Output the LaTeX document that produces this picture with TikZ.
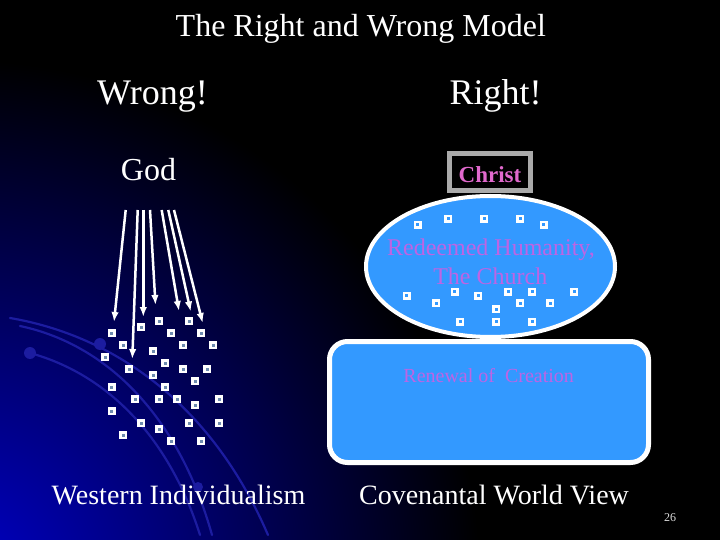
\documentclass[tikz,border=0pt]{standalone}
\usepackage{fontspec}
\setmainfont{Liberation Serif}
\usetikzlibrary{arrows.meta,shapes.geometric}
\definecolor{skyb}{RGB}{51,153,255}
\definecolor{pinkt}{RGB}{225,105,205}
\definecolor{lavt}{RGB}{190,100,228}
\definecolor{sqin}{RGB}{110,140,175}
\definecolor{glow}{RGB}{0,0,200}
\definecolor{arcb}{RGB}{28,28,160}
\definecolor{boxgray}{RGB}{170,170,170}
\tikzset{
  sqbase/.style={rectangle, draw=white, line width=2.5pt, minimum size=5.5pt, inner sep=0pt},
  sqleft/.style={sqbase, fill=sqin},
  sqchurch/.style={sqbase, fill=skyb},
  godarrow/.style={draw=white, line width=2.5pt, -{Latex[length=10pt,width=7.5pt]}},
  txt/.style={text=white, anchor=base, inner sep=0pt},
  arcline/.style={draw=arcb, line width=2.2pt, line cap=round},
}
\begin{document}
\begin{tikzpicture}[x=1pt,y=-1pt]
\fill[black] (0,0) rectangle (720,540);
\begin{scope}
  \clip (0,0) rectangle (720,540);
  \shade[inner color=glow, outer color=black] (-40,580) circle[radius=520pt];
  % decorative arcs
  \draw[arcline] (10,318) .. controls (110,335) and (210,400) .. (268,535);
  \draw[arcline] (20,326) .. controls (110,345) and (180,420) .. (212,535);
  \draw[arcline] (30,353) .. controls (110,375) and (170,440) .. (200,535);
  \fill[arcb] (100,344) circle[radius=6pt];
  \fill[arcb] (30,353) circle[radius=6pt];
  \fill[arcb] (198,487) circle[radius=5pt];
\end{scope}
\useasboundingbox (0,0) rectangle (720,540);

% title and headers
\node[txt, font=\fontsize{32}{38}\selectfont] (title) at (360.8,36.7) {The Right and Wrong Model};
\node[txt, font=\fontsize{36}{42}\selectfont] (wrong) at (152.5,105) {Wrong!};
\node[txt, font=\fontsize{36}{42}\selectfont] (right) at (495.5,105) {Right!};
\node[txt, font=\fontsize{32}{38}\selectfont] (god) at (148.5,181) {God};

% arrows from God
\coordinate (g1) at (125.7,210); \coordinate (t1) at (114,322);
\coordinate (g2) at (137.7,210); \coordinate (t2) at (132.3,359);
\coordinate (g3) at (143.3,210); \coordinate (t3) at (143.3,317);
\coordinate (g4) at (150,210);   \coordinate (t4) at (155.5,305);
\coordinate (g5) at (161.7,210); \coordinate (t5) at (179,311);
\coordinate (g6) at (168.3,210); \coordinate (t6) at (190.7,311.5);
\coordinate (g7) at (174,210);   \coordinate (t7) at (202.7,323);
\foreach \i in {1,...,7} \draw[godarrow] (g\i) -- (t\i);

% individuals (left)
\foreach [count=\i] \x/\y in {111.7/333.3,159.3/321.3,189.3/321.3,141.3/327.3,171.3/333.3,201.3/333.3,
  123.3/345.3,183.3/345.3,213.3/345.3,105.3/357.3,153.3/351.3,165.3/363.3,129.3/369.3,183.3/369.3,
  207.3/369.3,153.3/375.3,195.3/381.3,111.7/387.3,165.3/387.3,135.3/399.3,159.3/399.3,177.3/399.3,
  219.3/399.3,195.3/405.3,111.7/411.3,141.3/423.3,189.3/423.3,219.3/423.3,159.3/429.3,123.3/435.3,
  171.3/441.3,201.3/441.3}
  \node[sqleft] (l\i) at (\x,\y) {};

% right side: church ellipse
\node[ellipse, draw=white, line width=4pt, fill=skyb, minimum width=249pt, minimum height=141pt, inner sep=0pt] (church) at (490.5,266.5) {};
\node[rectangle, draw=boxgray, line width=5pt, fill=black, minimum width=81pt, minimum height=37pt, inner sep=0pt] (christbox) at (490,172) {};
\node[anchor=base, inner sep=0pt, text=pinkt, font=\fontsize{23}{27}\selectfont\bfseries] (christ) at (490,183) {Christ};

\foreach [count=\i] \x/\y in {417.7/225,448.3/219,484.3/219,520.3/219,543.7/225,
  406.7/295.7,436/303.3,454.7/291.7,478.3/295.7,508.3/291.7,532.3/291.7,574.3/291.7,
  520/303.3,550/303.3,496/309.3,460/321.7,496/321.7,532.3/321.7}
  \node[sqchurch] (c\i) at (\x,\y) {};

\node[anchor=base, inner sep=0pt, text=lavt, font=\fontsize{24}{28}\selectfont] (redeemed) at (491,255) {Redeemed Humanity,};
\node[anchor=base, inner sep=0pt, text=lavt, font=\fontsize{24}{28}\selectfont] (thechurch) at (490.3,284) {The Church};

% renewal of creation
\node[rectangle, draw=white, line width=5pt, fill=skyb, rounded corners=18pt, minimum width=319pt, minimum height=121pt, inner sep=0pt] (renewal) at (489,402) {};
\node[anchor=base, inner sep=0pt, text=lavt, font=\fontsize{20}{24}\selectfont] (renewtxt) at (488.7,382.7) {Renewal of\ \ Creation};

% captions
\node[txt, font=\fontsize{28}{33}\selectfont] (western) at (178.5,504) {Western Individualism};
\node[txt, font=\fontsize{28}{33}\selectfont] (covenant) at (494,504) {Covenantal World View};
\node[anchor=base, inner sep=0pt, text=white!85!black, font=\fontsize{12}{14}\selectfont] (page) at (670,521) {26};
\end{tikzpicture}
\end{document}
